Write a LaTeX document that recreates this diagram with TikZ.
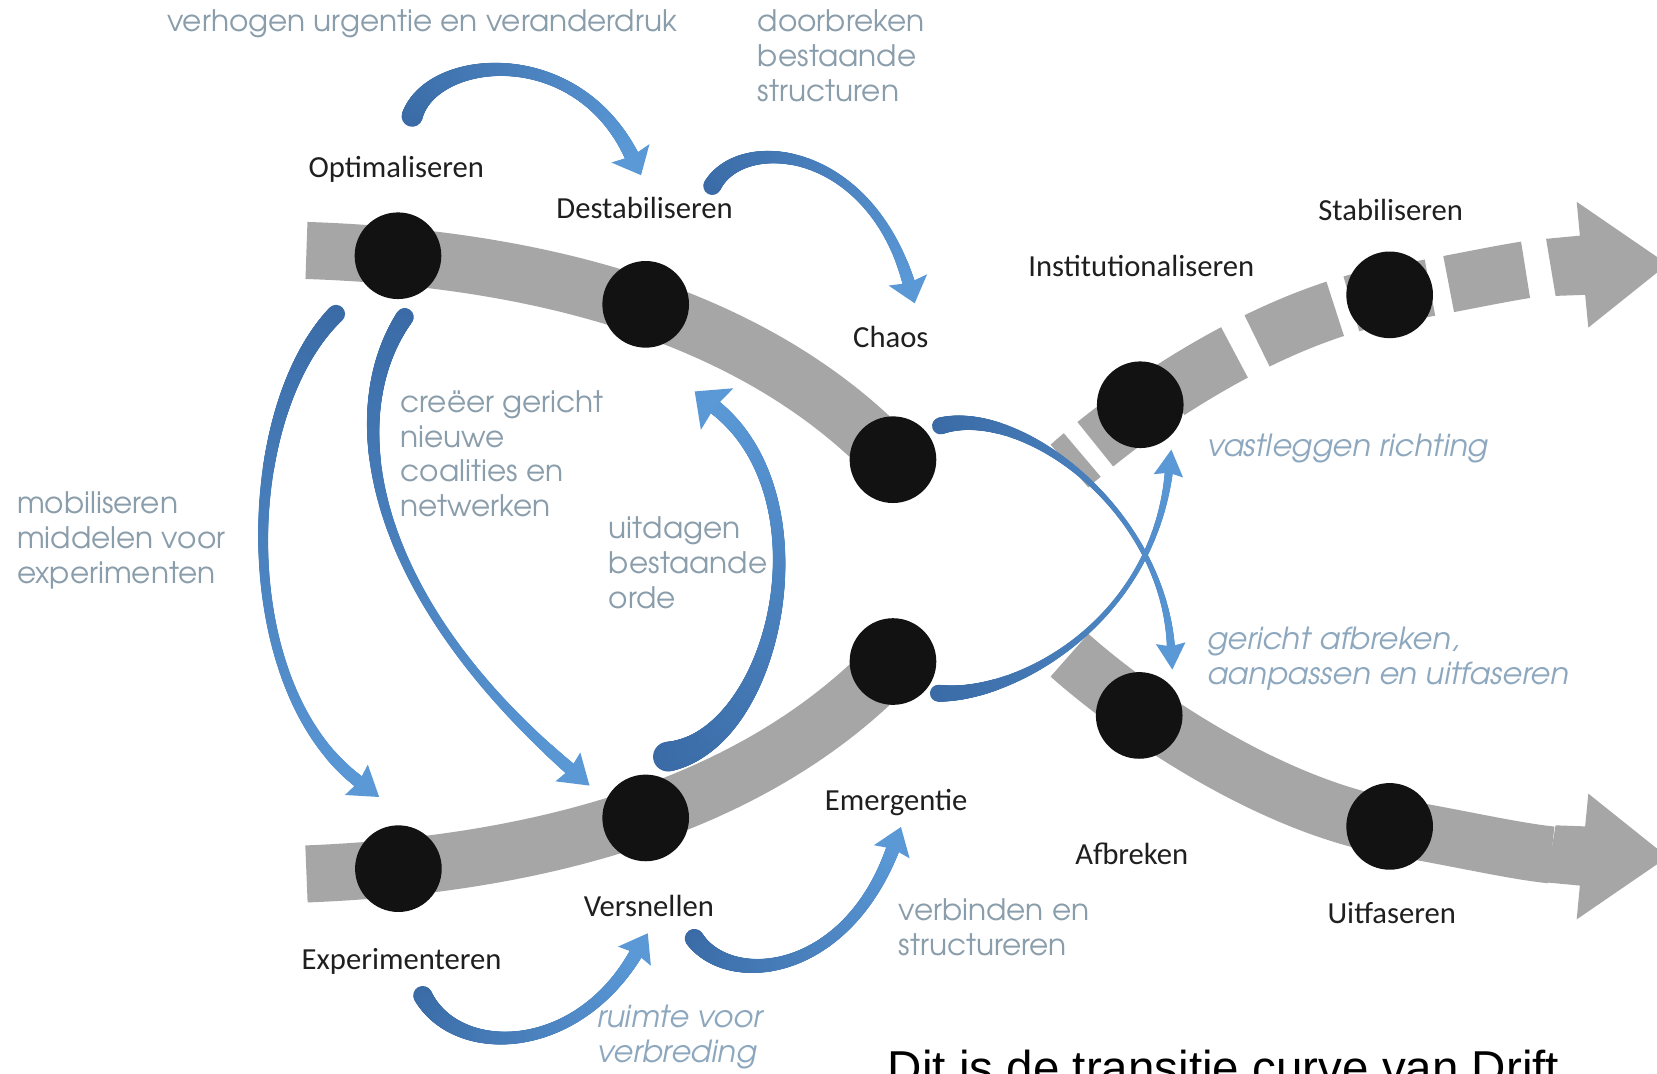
\documentclass[tikz,border=0pt]{standalone}
\usepackage{fontspec}
\setmainfont{Carlito}
\newfontfamily\lblfont{texgyreadventor}[Extension=.otf, UprightFont=*-regular, ItalicFont=*-italic, BoldFont=*-bold, BoldItalicFont=*-bolditalic]
\newfontfamily\capfont{Liberation Sans}
\usetikzlibrary{decorations.markings}
\definecolor{bandgray}{HTML}{A6A6A6}
\definecolor{dotblack}{HTML}{121212}
\definecolor{arrdark}{HTML}{3A6BA6}
\definecolor{arrlight}{HTML}{5A98D6}
\definecolor{lblcol}{HTML}{8A9DAB}
\definecolor{lblitcol}{HTML}{8DA8BE}
\tikzset{
  band/.style={line width=54pt, draw=bandgray},
  dotnode/.style={circle, fill=dotblack, minimum size=82pt, inner sep=0pt},
  phase/.style={font=\fontsize{29}{34}\selectfont, text=black!88, anchor=base, inner sep=0pt},
  note/.style={font=\lblfont\fontsize{28}{33}\selectfont, text=lblcol, anchor=base west, align=left, inner sep=0pt},
  notei/.style={note, font=\lblfont\itshape\fontsize{28.8}{33}\selectfont, text=lblitcol},
  taper/.style n args={5}{
    postaction={decorate, decoration={markings,
      mark=between positions 0 and 1 step 0.8pt with {%
        \pgfmathsetmacro\tpos{\pgfkeysvalueof{/pgf/decoration/mark info/distance from start}/\pgfdecoratedpathlength}%
        \pgfmathsetmacro\trad{0.5*(#2+(#1-#2)*(1-\tpos)^3+(#3-#2)*\tpos^4)}%
        \pgfmathtruncatemacro\tpc{100*(1-\tpos)}%
        \fill[arrdark!\tpc!arrlight] (0pt,0pt) circle[radius=\trad pt];}
    }},
    postaction={decorate, decoration={markings,
      mark=at position 0.999 with {%
        \fill[arrlight] (-3pt,#4pt) -- (#5pt,0pt) -- (-3pt,-#4pt) -- (0pt,0pt) -- cycle;}
    }}
  }
}
\begin{document}
\begin{tikzpicture}[x=1pt,y=-1pt]
\useasboundingbox (0,0) rectangle (1568,1016);
\clip (0,0) rectangle (1568,1016);
\fill[white] (0,0) rectangle (1568,1016);
% dot centres
\coordinate (optc) at (376.6,242);
\coordinate (destabc) at (611,288);
\coordinate (chaosc) at (845,435);
\coordinate (expc) at (377,822);
\coordinate (versc) at (611,774);
\coordinate (emergc) at (845,626);
\coordinate (instc) at (1079,383);
\coordinate (stabc) at (1315,279);
\coordinate (afbrc) at (1078,677);
\coordinate (uitfc) at (1315,782);
% gray bands
\draw[band] (290,237) .. controls (470,243) and (700,282) .. (chaosc);
\draw[band] (290,827) .. controls (470,820) and (700,779) .. (emergc);
\draw[band, dash pattern=on 16pt off 16pt on 68pt off 18pt on 72pt off 24pt on 80pt off 16pt on 76pt off 18pt on 74pt off 300pt]
  (1012,441) .. controls (1075,385) and (1200,300) .. (stabc) .. controls (1380,268) and (1430,256) .. (1468,252);
\fill[bandgray] (1463,226) -- (1495,223) -- (1492,191) -- (1578,250) -- (1503,310) -- (1500,279) -- (1472,280) -- cycle;
\draw[band] (1012,620) .. controls (1075,676) and (1200,761) .. (uitfc) .. controls (1380,793) and (1430,805) .. (1468,809);
\fill[bandgray] (1463,835) -- (1495,838) -- (1492,870) -- (1578,811) -- (1503,751) -- (1500,782) -- (1472,781) -- cycle;
% dots
\foreach \n in {opt,destab,chaos,exp,vers,emerg,inst,stab,afbr,uitf}
  \node[dotnode] (\n) at (\n c) {};
% blue curved arrows
\path[taper={20}{10}{14}{20}{20}] (390,110) .. controls (408,52) and (545,38) .. (598,148);
\path[taper={17}{8}{12}{19}{20}] (674,176) .. controls (702,126) and (822,138) .. (860,268);
\path[taper={17}{8}{12}{18}{24}] (318,297) .. controls (225,390) and (220,650) .. (340,740);
\path[taper={17}{7}{12}{18}{24}] (383,300) .. controls (322,390) and (345,560) .. (540,728);
\path[taper={28}{10}{14}{25}{24}] (632,716) .. controls (735,700) and (785,470) .. (676,385);
\path[taper={16}{3.5}{8}{14}{22}] (890,403) .. controls (965,382) and (1100,480) .. (1108,612);
\path[taper={16}{3.5}{8}{14}{22}] (888,656) .. controls (960,660) and (1090,590) .. (1106,447);
\path[taper={18}{10}{13}{18}{22}] (400,942) .. controls (432,1002) and (545,1000) .. (602,902);
\path[taper={18}{10}{13}{18}{22}] (657,888) .. controls (690,935) and (800,925) .. (845,803);
% phase labels
\node[phase] (lopt) at (375,167.5) {Optimaliseren};
\node[phase] (ldestab) at (610,206.5) {Destabiliseren};
\node[phase] (lchaos) at (843,329) {Chaos};
\node[phase] (linst) at (1080,262) {Institutionaliseren};
\node[phase] (lstab) at (1316,208.5) {Stabiliseren};
\node[phase] (lemerg) at (848,767) {Emergentie};
\node[phase] (lafbr) at (1071,818.5) {Afbreken};
\node[phase] (luitf) at (1317,874) {Uitfaseren};
\node[phase] (lvers) at (614,867) {Versnellen};
\node[phase] (lexp) at (380,917) {Experimenteren};
% notes (anchor = baseline of the last line)
\node[note] (n1) at (158,30) {verhogen urgentie en veranderdruk};
\node[note] (n2) at (717,96) {doorbreken\\bestaande\\structuren};
\node[note] (n3) at (379,489) {creëer gericht\\nieuwe\\coalities en\\netwerken};
\node[note] (n4) at (16,552) {mobiliseren\\middelen voor\\experimenten};
\node[note] (n5) at (576,575.6) {uitdagen\\bestaande\\orde};
\node[notei] (n6) at (1142,432) {vastleggen richting};
\node[notei] (n7) at (1142,648) {gericht afbreken,\\aanpassen en uitfaseren};
\node[note] (n8) at (850,904) {verbinden en\\structureren};
\node[notei] (n9) at (565,1005.7) {ruimte voor\\verbreding};
% caption
\node[font=\capfont\fontsize{45}{50}\selectfont, anchor=base west, inner sep=0pt] (cap) at (840,1026) {Dit is de transitie curve van Drift};
\end{tikzpicture}
\end{document}
